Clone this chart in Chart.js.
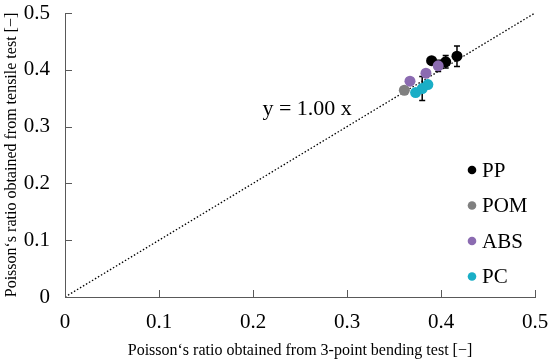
<!DOCTYPE html>
<html>
<head>
<meta charset="utf-8">
<script src="https://cdn.jsdelivr.net/npm/chart.js@4.4.1/dist/chart.umd.min.js"></script>
<style>
  html, body { margin: 0; padding: 0; background: #fff; }
</style>
</head>
<body>
<canvas id="chart" width="550" height="360"></canvas>
<script>
// Poisson's ratio: 3-point bending (x) vs tensile test (y)
const seriesNames = ["PP", "POM", "ABS", "PC"];
const seriesColors = ["#000000", "#808080", "#8b6bb1", "#1aaec6"];

const ppBending = [0.390, 0.405, 0.417];
const ppTensile = [0.416, 0.414, 0.424];
const ppError = [0.005, 0.011, 0.018];

const pomBending = [0.361];
const pomTensile = [0.364];
const pomError = [0.003];

const absBending = [0.367, 0.384, 0.397];
const absTensile = [0.380, 0.394, 0.407];
const absError = [0.004, 0.006, 0.010];

const pcBending = [0.373, 0.380, 0.386];
const pcTensile = [0.360, 0.367, 0.374];
const pcError = [0.004, 0.021, 0.004];

const fitX = [0, 0.5];
const fitY = [0, 0.5];
const fitLabel = "y = 1.00 x";

const tickValues = [0, 0.1, 0.2, 0.3, 0.4, 0.5];
const xTitle = "Poisson\u2018s ratio obtained from 3-point bending test [\u2212]";
const yTitle = "Poisson\u2018s ratio obtained from tensile test [\u2212]";

const FONT = "'Liberation Serif', 'Times New Roman', serif";

const bendingSets = [ppBending, pomBending, absBending, pcBending];
const tensileSets = [ppTensile, pomTensile, absTensile, pcTensile];
const errorSets = [ppError, pomError, absError, pcError];

const datasets = seriesNames.map((name, i) => ({
    label: name,
    data: bendingSets[i].map((x, j) => ({ x: x, y: tensileSets[i][j] })),
    errors: errorSets[i],
    backgroundColor: seriesColors[i],
    borderColor: seriesColors[i],
    pointRadius: 5.5,
    pointBorderWidth: 0,
    showLine: false,
    order: 4 - i
}));

datasets.push({
    label: "fit",
    data: fitX.map((x, j) => ({ x: x, y: fitY[j] })),
    showLine: true,
    borderColor: "#000",
    borderWidth: 1.3,
    borderDash: [1.5, 2],
    pointRadius: 0,
    order: 10
});

// vertical error bars, drawn through the scales
const errorBars = {
    id: "errorBars",
    beforeDatasetsDraw(chart) {
        const ctx = chart.ctx;
        const xs = chart.scales.x, ys = chart.scales.y;
        ctx.save();
        ctx.strokeStyle = "#000";
        ctx.lineWidth = 1.5;
        chart.data.datasets.forEach(ds => {
            if (!ds.errors) return;
            ds.data.forEach((p, j) => {
                const e = ds.errors[j];
                const px = xs.getPixelForValue(p.x);
                const top = ys.getPixelForValue(p.y + e);
                const bot = ys.getPixelForValue(p.y - e);
                ctx.beginPath();
                ctx.moveTo(px, top); ctx.lineTo(px, bot);
                ctx.moveTo(px - 3, top); ctx.lineTo(px + 3, top);
                ctx.moveTo(px - 3, bot); ctx.lineTo(px + 3, bot);
                ctx.stroke();
            });
        });
        ctx.restore();
    }
};

// inward tick marks, fit label and legend
const extras = {
    id: "extras",
    afterDraw(chart) {
        const ctx = chart.ctx;
        const xs = chart.scales.x, ys = chart.scales.y;
        const area = chart.chartArea;
        ctx.save();
        ctx.strokeStyle = "#595959";
        ctx.lineWidth = 1;
        tickValues.forEach(v => {
            const px = Math.round(xs.getPixelForValue(v)) + 0.5;
            ctx.beginPath();
            ctx.moveTo(px, area.bottom); ctx.lineTo(px, area.bottom - 7);
            ctx.stroke();
            const py = Math.round(ys.getPixelForValue(v)) + 0.5;
            ctx.beginPath();
            ctx.moveTo(area.left, py); ctx.lineTo(area.left + 7, py);
            ctx.stroke();
        });

        ctx.fillStyle = "#000";
        ctx.font = "22px " + FONT;
        ctx.textBaseline = "alphabetic";
        ctx.textAlign = "left";
        ctx.fillText(fitLabel, xs.getPixelForValue(0.21), ys.getPixelForValue(0.32));

        ctx.font = "21px " + FONT;
        ctx.textBaseline = "middle";
        seriesNames.forEach((name, i) => {
            const y = 170 + i * 35.5;
            ctx.fillStyle = seriesColors[i];
            ctx.beginPath();
            ctx.arc(472, y, 4.3, 0, Math.PI * 2);
            ctx.fill();
            ctx.fillStyle = "#000";
            ctx.fillText(name, 482, y + 1);
        });
        ctx.restore();
    }
};

function axisOptions(title, isX) {
    return {
        type: "linear",
        min: 0,
        max: 0.5,
        afterBuildTicks: s => { s.ticks = tickValues.map(v => ({ value: v })); },
        afterFit: s => {
            if (isX) { s.height = 63; s.paddingLeft = 0; s.paddingRight = 0; }
            else { s.width = 65; s.paddingTop = 0; s.paddingBottom = 0; }
        },
        grid: { display: false, drawTicks: false },
        border: { display: true, color: "#595959", width: 1 },
        ticks: {
            color: "#000",
            padding: isX ? 13 : 15,
            maxRotation: 0,
            font: { family: FONT, size: 21 },
            callback: v => (v === 0 ? "0" : v.toFixed(1))
        },
        title: {
            display: true,
            text: title,
            color: "#000",
            font: { family: FONT, size: 16 },
            padding: isX ? { top: 0, bottom: 0 } : { top: 2, bottom: 0 }
        }
    };
}

new Chart(document.getElementById("chart"), {
    type: "scatter",
    data: { datasets: datasets },
    options: {
        responsive: false,
        animation: false,
        devicePixelRatio: 1,
        layout: { padding: { top: 13, right: 15, left: 0, bottom: 0 } },
        plugins: { legend: { display: false }, tooltip: { enabled: false } },
        scales: {
            x: axisOptions(xTitle, true),
            y: axisOptions(yTitle, false)
        }
    },
    plugins: [errorBars, extras]
});
</script>
</body>
</html>
